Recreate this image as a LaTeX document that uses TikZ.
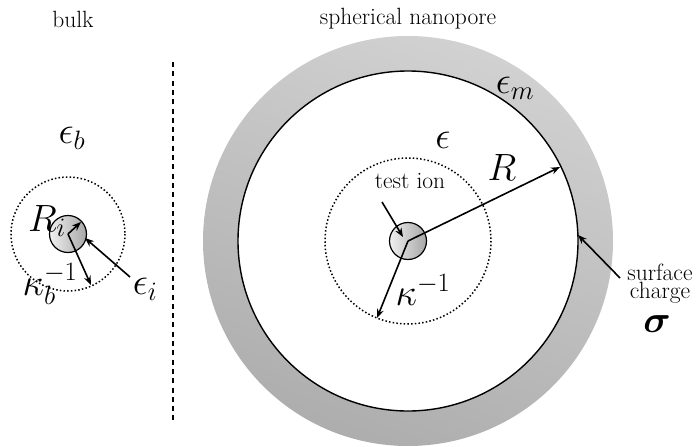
\RequirePackage{fix-cm}
\documentclass[tikz,border=0pt]{standalone}
\usepackage{amsmath}
\usetikzlibrary{arrows.meta}
\tikzset{
  txt/.style={inner sep=0pt, font=\fontsize{23.5}{27}\selectfont},
  mth/.style={inner sep=0pt, font=\fontsize{38}{44}\selectfont},
  arr/.style={line width=1.6pt, -{Stealth[length=9pt,width=7pt]}},
  ion/.style={circle, draw=black, line width=1.2pt, minimum size=37pt, inner sep=0pt, left color=gray!12, right color=gray!70},
  dotcirc/.style={line width=1.5pt, dash pattern=on 1.5pt off 2.2pt},
}
\begin{document}
\begin{tikzpicture}[x=1pt,y=-1pt]
\useasboundingbox (0,0) rectangle (696,447);
% titles
\node[txt] (bulk) at (73,19) {bulk};
\node[txt] (nano) at (408,19) {spherical nanopore};
% divider
\coordinate (dtop) at (173,62);
\coordinate (dbot) at (173,422);
\draw[line width=2.3pt, dash pattern=on 5pt off 4.3pt] (dtop) -- (dbot);
% nanopore
\coordinate (C) at (408,241);
\shade[top color=gray!36, bottom color=gray!64, shading angle=-20] (C) circle (205);
\draw[line width=1.4pt, fill=white] (C) circle (170);
\draw[dotcirc] (C) circle (83);
\node[ion] (ion) at (C) {};
% bulk
\coordinate (B) at (68,234);
\draw[dotcirc] (B) circle (57);
\node[ion] (bion) at (B) {};
% arrows nanopore
\coordinate (Rtip) at (560,167);
\coordinate (ktip) at (377,318);
\coordinate (tstart) at (382,202);
\coordinate (ttip) at (403,237);
\coordinate (sstart) at (620,278);
\coordinate (stip) at (578,235);
\draw[arr] (C) -- (Rtip);
\draw[arr] (C) -- (ktip);
\draw[arr] (tstart) -- (ttip);
\draw[arr] (sstart) -- (stip);
% arrows bulk
\coordinate (Ritip) at (81,222);
\coordinate (kbtip) at (91,285);
\coordinate (eistart) at (130,277);
\coordinate (eitip) at (85,238);
\draw[arr] (B) -- (Ritip);
\draw[arr] (B) -- (kbtip);
\draw[arr] (eistart) -- (eitip);
% labels
\node[mth] (eb) at (72,138) {$\epsilon_b$};
\node[mth] (Ri) at (47,221) {$R_i$};
\node[mth] (kb) at (50,284) {$\kappa_b^{-1}$};
\node[mth] (ei) at (145,289) {$\epsilon_i$};
\node[mth] (e) at (443,140) {$\epsilon$};
\node[mth] (em) at (515,88) {$\epsilon_m$};
\node[mth] (R) at (502,168) {$R$};
\node[txt] (test) at (410,181) {test ion};
\node[mth] (k) at (423,290) {$\kappa^{-1}$};
\node[txt, align=center, font=\fontsize{23.5}{18}\selectfont] (surf) at (660,284) {surface\\charge};
\node[mth] (sig) at (657,324) {$\boldsymbol{\sigma}$};
\end{tikzpicture}
\end{document}
